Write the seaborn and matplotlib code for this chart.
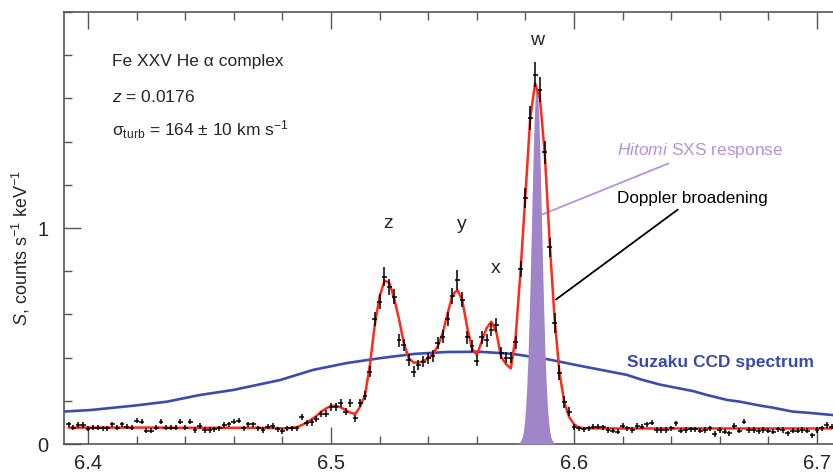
import numpy as np
import pandas as pd
import matplotlib
matplotlib.use("Agg")
import matplotlib.pyplot as plt
from matplotlib.ticker import MultipleLocator, FixedLocator, FormatStrFormatter
import seaborn as sns

# ---------------- data ----------------
# Hitomi SXS channels (keV), 2 eV bins
energy = np.round(np.arange(6392, 6708, 2) / 1000.0, 3)

counts = [
    0.091, 0.076, 0.088, 0.088, 0.070, 0.076, 0.076, 0.072, 0.072, 0.091,
    0.076, 0.091, 0.080, 0.076, 0.108, 0.103, 0.061, 0.061, 0.076, 0.103,
    0.076, 0.076, 0.076, 0.103, 0.076, 0.103, 0.065, 0.083, 0.065, 0.065,
    0.068, 0.072, 0.088, 0.091, 0.103, 0.108, 0.072, 0.091, 0.091, 0.072,
    0.065, 0.080, 0.083, 0.068, 0.060, 0.072, 0.072, 0.072, 0.126, 0.096,
    0.100, 0.115, 0.139, 0.140, 0.173, 0.173, 0.191, 0.150, 0.190, 0.119,
    0.190, 0.224, 0.335, 0.577, 0.659, 0.775, 0.728, 0.682, 0.481, 0.458,
    0.389, 0.335, 0.366, 0.381, 0.397, 0.407, 0.466, 0.497, 0.577, 0.685,
    0.759, 0.667, 0.494, 0.455, 0.386, 0.494, 0.480, 0.530, 0.550, 0.420,
    0.400, 0.400, 0.470, 0.810, 1.140, 1.510, 1.710, 1.640, 1.350, 0.910,
    0.560, 0.330, 0.195, 0.150, 0.080,
    0.072, 0.068, 0.072, 0.080, 0.080, 0.078, 0.065, 0.062, 0.057, 0.085,
    0.072, 0.065, 0.083, 0.080, 0.091, 0.099, 0.065, 0.065, 0.065, 0.072,
    0.095, 0.062, 0.065, 0.068, 0.068, 0.062, 0.065, 0.072, 0.046, 0.065,
    0.057, 0.049, 0.083, 0.062, 0.103, 0.065, 0.065, 0.060, 0.065, 0.062,
    0.057, 0.068, 0.065, 0.049, 0.062, 0.062, 0.065, 0.062, 0.041, 0.065,
    0.072, 0.088, 0.080,
]

errors = [
    0.012, 0.012, 0.012, 0.012, 0.012, 0.012, 0.012, 0.012, 0.012, 0.012,
    0.012, 0.012, 0.012, 0.012, 0.012, 0.012, 0.012, 0.012, 0.012, 0.012,
    0.012, 0.012, 0.012, 0.012, 0.012, 0.012, 0.012, 0.012, 0.012, 0.012,
    0.012, 0.012, 0.012, 0.012, 0.012, 0.012, 0.012, 0.012, 0.012, 0.012,
    0.012, 0.012, 0.012, 0.012, 0.012, 0.012, 0.012, 0.012, 0.014, 0.014,
    0.015, 0.015, 0.016, 0.016, 0.018, 0.018, 0.019, 0.017, 0.019, 0.015,
    0.019, 0.020, 0.025, 0.033, 0.035, 0.045, 0.037, 0.035, 0.030, 0.028,
    0.026, 0.024, 0.025, 0.026, 0.026, 0.027, 0.028, 0.030, 0.032, 0.035,
    0.045, 0.035, 0.030, 0.028, 0.026, 0.030, 0.029, 0.031, 0.032, 0.027,
    0.026, 0.026, 0.029, 0.037, 0.047, 0.056, 0.058, 0.058, 0.055, 0.043,
    0.046, 0.035, 0.028, 0.019, 0.014,
    0.012, 0.012, 0.012, 0.012, 0.012, 0.012, 0.012, 0.012, 0.012, 0.012,
    0.012, 0.012, 0.012, 0.012, 0.012, 0.012, 0.012, 0.012, 0.012, 0.012,
    0.012, 0.012, 0.012, 0.012, 0.012, 0.012, 0.012, 0.012, 0.012, 0.012,
    0.012, 0.012, 0.012, 0.012, 0.012, 0.012, 0.012, 0.012, 0.012, 0.012,
    0.012, 0.012, 0.012, 0.012, 0.012, 0.012, 0.012, 0.012, 0.012, 0.012,
    0.012, 0.012, 0.012,
]

model = [
    0.076, 0.076, 0.076, 0.076, 0.076, 0.076, 0.076, 0.076, 0.076, 0.076,
    0.076, 0.076, 0.076, 0.076, 0.076, 0.076, 0.076, 0.076, 0.076, 0.076,
    0.075, 0.075, 0.075, 0.075, 0.075, 0.075, 0.075, 0.075, 0.075, 0.075,
    0.075, 0.075, 0.075, 0.075, 0.075, 0.075, 0.075, 0.075, 0.075, 0.075,
    0.074, 0.074, 0.074, 0.074, 0.072, 0.073, 0.075, 0.078, 0.088, 0.099,
    0.114, 0.130, 0.150, 0.165, 0.176, 0.177, 0.170, 0.157, 0.145, 0.139,
    0.173, 0.227, 0.366, 0.551, 0.682, 0.756, 0.747, 0.674, 0.577, 0.466,
    0.397, 0.377, 0.377, 0.384, 0.397, 0.417, 0.454, 0.515, 0.605, 0.690,
    0.713, 0.667, 0.543, 0.443, 0.412, 0.474, 0.536, 0.566, 0.520, 0.404,
    0.370, 0.350, 0.497, 0.800, 1.150, 1.510, 1.670, 1.600, 1.340, 0.935,
    0.583, 0.333, 0.194, 0.125, 0.092,
    0.076, 0.074, 0.073, 0.072, 0.072, 0.072, 0.072, 0.072, 0.072, 0.072,
    0.072, 0.072, 0.072, 0.072, 0.072, 0.072, 0.072, 0.072, 0.072, 0.072,
    0.072, 0.072, 0.072, 0.072, 0.072, 0.072, 0.072, 0.072, 0.072, 0.072,
    0.072, 0.072, 0.072, 0.072, 0.072, 0.072, 0.072, 0.072, 0.072, 0.072,
    0.072, 0.072, 0.072, 0.072, 0.072, 0.072, 0.072, 0.072, 0.072, 0.072,
    0.072, 0.072, 0.072,
]

suzaku_energy = [6.3897, 6.4008, 6.4185, 6.4325, 6.4461, 6.4597, 6.4790, 6.4926,
                 6.5066, 6.5206, 6.5342, 6.5477, 6.5613, 6.5749, 6.5889, 6.6025,
                 6.6218, 6.6272, 6.6354, 6.6490, 6.6547, 6.6630, 6.6683, 6.6765,
                 6.6820, 6.6900, 6.6959, 6.7066, 6.7170]
suzaku_flux = [0.150, 0.157, 0.177, 0.196, 0.227, 0.250, 0.296, 0.343,
               0.375, 0.398, 0.417, 0.426, 0.427, 0.417, 0.393, 0.362,
               0.320, 0.300, 0.275, 0.245, 0.227, 0.204, 0.196, 0.178,
               0.168, 0.150, 0.145, 0.134, 0.128]

sxs_energy = [6.5771, 6.5776, 6.5781, 6.5786, 6.5791, 6.5796, 6.5801, 6.5806,
              6.5811, 6.5816, 6.5821, 6.5826, 6.5831, 6.5836, 6.5841, 6.5846,
              6.5851, 6.5856, 6.5861, 6.5866, 6.5871, 6.5876, 6.5881, 6.5886,
              6.5891, 6.5896, 6.5901, 6.5906, 6.5911, 6.5916, 6.5921]
sxs_resp = [0.000, 0.008, 0.016, 0.028, 0.054, 0.098, 0.168, 0.272,
            0.416, 0.602, 0.822, 1.061, 1.294, 1.491, 1.623, 1.670,
            1.623, 1.491, 1.294, 1.061, 0.822, 0.602, 0.416, 0.272,
            0.168, 0.098, 0.054, 0.028, 0.016, 0.008, 0.000]

line_names = ["z", "y", "x", "w"]
x_ticks = [6.4, 6.5, 6.6, 6.7]
y_ticks = [0, 1]

# ---------------- style ----------------
sns.set_style("ticks")
plt.rcParams["font.family"] = ["Liberation Sans", "DejaVu Sans"]
plt.rcParams["mathtext.fontset"] = "custom"
plt.rcParams["mathtext.rm"] = "Liberation Sans"
plt.rcParams["mathtext.it"] = "Liberation Sans:italic"
plt.rcParams["mathtext.bf"] = "Liberation Sans:bold"

fig = plt.figure(figsize=(8.33, 4.75), dpi=100)
ax = fig.add_axes([64 / 833, 31 / 475, (858 - 64) / 833, 432 / 475])

df_sz = pd.DataFrame({"E": suzaku_energy, "S": suzaku_flux})
sns.lineplot(data=df_sz, x="E", y="S", ax=ax, color="#3a4cb0", linewidth=1.9,
             estimator=None, sort=False, zorder=2)

ax.fill_between(sxs_energy, 0, sxs_resp, color="#a086c8", linewidth=0, zorder=3)

df_m = pd.DataFrame({"E": energy, "S": model})
sns.lineplot(data=df_m, x="E", y="S", ax=ax, color="#ff2a1a", linewidth=1.8,
             estimator=None, sort=False, zorder=4)

ax.errorbar(energy, counts, xerr=0.001, yerr=errors, fmt="none",
            ecolor="black", elinewidth=1.1, capsize=0, zorder=5)

ax.set_xlim(6.3901, 6.7169)
ax.set_ylim(0, 2.0)

ax.xaxis.set_major_locator(FixedLocator(x_ticks))
ax.xaxis.set_minor_locator(MultipleLocator(0.02))
ax.xaxis.set_major_formatter(FormatStrFormatter("%.1f"))
ax.yaxis.set_major_locator(FixedLocator(y_ticks))
ax.yaxis.set_minor_locator(MultipleLocator(0.2))

ax.tick_params(axis="both", which="both", direction="in", top=True, right=False,
               color="#555555", width=1.0)
ax.tick_params(axis="both", which="major", length=12, labelsize=14.5)
ax.tick_params(axis="x", which="major", pad=7)
ax.tick_params(axis="y", which="major", pad=11)
ax.tick_params(axis="both", which="minor", length=6)

for side in ["left", "bottom", "top"]:
    ax.spines[side].set_color("#555555")
    ax.spines[side].set_linewidth(1.2)
ax.spines["right"].set_visible(False)

ax.set_xlabel("")
ax.set_ylabel(r"$S$, counts s$^{-1}$ keV$^{-1}$", fontsize=13)
ax.yaxis.set_label_coords(-0.040, 0.454)

# text block
ax.text(6.4099, 1.773, "Fe XXV He α complex", fontsize=12.5, va="center", ha="left")
ax.text(6.4099, 1.606, r"$z$ = 0.0176", fontsize=12.5, va="center", ha="left")
ax.text(6.4099, 1.457, "σ$_{\\mathrm{turb}}$ = 164 ± 10 km s$^{-1}$", fontsize=12.5,
        va="center", ha="left")

# line labels
label_pos = [(6.5237, 1.023), (6.5538, 1.014), (6.5678, 0.814), (6.5847, 1.869)]
for name, (lx, ly) in zip(line_names, label_pos):
    ax.text(lx, ly, name, fontsize=14, ha="center", va="center")

# annotations
ax.annotate("$\\mathit{Hitomi}$ SXS response", xy=(6.5868, 1.062), xytext=(6.6177, 1.358),
            fontsize=12.5, color="#b493dc", ha="left", va="center",
            arrowprops=dict(arrowstyle="-", color="#b493dc", lw=1.3, shrinkA=0, shrinkB=0))
ax.annotate("Doppler broadening", xy=(6.5926, 0.669), xytext=(6.6177, 1.135),
            fontsize=12.3, color="black", ha="left", va="center",
            arrowprops=dict(arrowstyle="-", color="black", lw=1.3, shrinkA=0, shrinkB=0))

ax.text(6.6218, 0.376, "Suzaku CCD spectrum", fontsize=12.5, fontweight="bold",
        color="#3a4aa8", ha="left", va="center")

fig.savefig("out.png", dpi=100)
